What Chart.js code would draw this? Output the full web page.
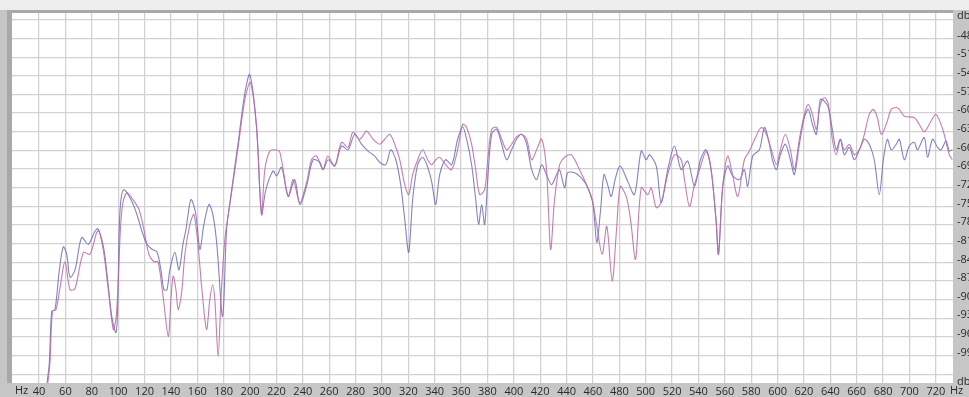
<!DOCTYPE html>
<html>
<head>
<meta charset="utf-8">
<script src="https://cdn.jsdelivr.net/npm/chart.js@4"></script>
<style>
  html, body { margin: 0; padding: 0; background: #c6c6c6; }
  canvas { display: block; }
</style>
</head>
<body>
<canvas id="spectrum" width="969" height="397"></canvas>
<script>
// frequenze (Hz) e livelli (dB)
const blueHz = [45.8, 47.8, 49.6, 52.1, 55.4, 58.4, 61.0, 63.5, 67.3, 72.3, 77.3, 82.4, 84.7, 89.2, 92.5, 95.3, 98.3, 99.5, 100.8, 102.1,
  104.4, 109.7, 114.2, 118.0, 121.8, 125.6, 129.4, 132.4, 134.7, 137.0, 139.2, 143.0, 146.1, 149.1, 151.4, 155.2, 158.9, 162.0, 165.0, 168.8,
  171.8, 174.8, 179.2, 182.2, 184.7, 191.0, 196.1, 199.8, 204.9, 208.7, 212.0, 217.5, 220.1, 223.9, 228.9, 233.9, 237.7, 242.8, 247.8, 252.9,
  255.4, 259.2, 264.2, 269.3, 274.3, 279.4, 284.5, 289.5, 294.5, 298.3, 302.9, 306.7, 310.5, 314.2, 317.3, 320.3, 323.3, 327.1, 330.9, 334.7,
  337.7, 340.8, 343.8, 348.3, 352.9, 357.4, 361.2, 364.2, 368.0, 371.1, 373.3, 375.6, 377.9, 380.2, 383.2, 387.0, 390.8, 394.5, 398.3, 402.1,
  405.9, 409.7, 413.5, 417.3, 421.1, 424.8, 428.6, 432.4, 434.7, 438.5, 440.8, 446.1, 452.3, 456.1, 459.9, 462.9, 465.8, 468.3, 471.1, 473.9,
  477.1, 480.7, 486.4, 491.5, 496.6, 500.4, 502.9, 508.0, 511.7, 516.7, 521.8, 526.9, 531.9, 537.0, 541.5, 545.8, 549.6, 553.4, 555.2, 558.4,
  562.2, 566.0, 571.1, 574.8, 577.3, 581.1, 586.2, 590.0, 593.0, 596.1, 599.1, 602.1, 605.9, 609.7, 612.7, 616.5, 620.3, 623.3, 626.4, 629.4,
  632.4, 635.5, 638.5, 641.5, 644.5, 647.6, 650.6, 654.4, 658.2, 662.0, 665.8, 669.5, 673.3, 677.1, 680.2, 683.2, 686.2, 690.0, 692.3, 696.1,
  699.8, 703.6, 706.1, 711.2, 713.7, 717.5, 721.3, 723.9, 727.7, 730.2, 732.5];
const blueDb = [-103.9, -100.1, -91.9, -91.6, -85.2, -81.5, -82.7, -86.4, -85.2, -80.0, -81.1, -79.0, -78.6, -81.9, -87.8, -92.9, -95.3, -92.1, -78.7, -73.9,
  -72.3, -73.9, -76.3, -79.0, -81.1, -81.9, -82.3, -85.2, -88.4, -88.4, -85.2, -82.4, -85.2, -81.1, -78.7, -73.9, -76.3, -81.9, -77.9, -74.7,
  -76.3, -81.1, -92.7, -78.7, -74.4, -64.7, -56.7, -53.8, -62.1, -76.3, -72.3, -69.3, -70.1, -68.7, -73.4, -70.7, -74.7, -71.8, -67.5, -67.9,
  -69.1, -67.5, -68.5, -65.3, -65.9, -63.4, -65.0, -66.1, -66.9, -67.9, -68.3, -65.9, -67.5, -71.5, -77.1, -82.4, -73.9, -68.3, -67.1, -68.7,
  -71.0, -74.7, -69.9, -67.5, -68.3, -64.2, -62.2, -64.2, -68.3, -73.9, -77.9, -74.7, -77.9, -70.7, -63.4, -62.6, -65.0, -67.5, -65.9, -64.2,
  -63.4, -65.0, -69.1, -70.7, -68.3, -69.9, -71.5, -69.9, -69.1, -72.0, -69.6, -69.6, -70.7, -72.0, -74.4, -80.8, -75.5, -69.9, -71.5, -73.4,
  -70.4, -68.5, -71.0, -73.1, -66.1, -67.5, -66.7, -68.5, -74.4, -69.1, -65.3, -69.1, -67.7, -71.8, -67.5, -65.9, -69.1, -77.4, -82.7, -71.8,
  -68.5, -70.1, -70.7, -69.1, -71.8, -66.9, -65.9, -62.3, -64.2, -67.5, -69.1, -66.7, -65.0, -67.5, -69.9, -65.0, -60.7, -59.4, -61.8, -63.4,
  -57.8, -58.1, -59.1, -62.6, -65.9, -64.2, -66.7, -65.5, -67.5, -65.9, -64.2, -65.0, -67.5, -73.1, -67.5, -64.2, -65.9, -65.0, -64.2, -67.5,
  -65.3, -64.7, -65.9, -63.9, -67.1, -64.2, -65.5, -65.9, -64.5, -66.1, -65.9];

const pinkHz = [46.4, 48.3, 50.2, 52.9, 55.9, 59.7, 63.5, 67.3, 73.6, 78.6, 83.7, 85.5, 89.2, 92.5, 96.3, 98.3, 99.8, 101.7, 103.6, 106.7,
  111.2, 115.8, 119.5, 123.3, 127.1, 130.2, 133.9, 138.0, 140.0, 141.7, 143.8, 145.5, 148.1, 150.6, 154.4, 157.4, 160.5, 163.5, 167.0, 169.5,
  171.6, 173.3, 175.8, 177.9, 180.9, 184.7, 191.0, 196.1, 200.2, 204.9, 208.7, 211.2, 215.0, 218.8, 222.6, 228.9, 232.7, 237.7, 242.8, 246.6,
  250.4, 255.2, 258.9, 264.2, 269.3, 274.3, 277.9, 283.2, 288.3, 293.3, 298.3, 302.1, 305.9, 309.7, 313.5, 317.3, 320.3, 323.3, 327.1, 330.9,
  334.7, 337.7, 340.8, 343.8, 348.3, 352.9, 357.4, 361.2, 364.2, 368.0, 371.1, 374.1, 377.9, 380.2, 383.2, 387.0, 390.8, 394.5, 398.3, 402.1,
  405.9, 409.7, 413.5, 417.3, 421.1, 424.8, 427.9, 430.9, 434.7, 438.5, 443.6, 449.8, 456.1, 459.9, 462.7, 467.0, 470.5, 474.6, 477.9, 480.7,
  485.2, 488.5, 492.3, 496.6, 501.6, 504.2, 508.0, 511.7, 516.7, 521.8, 526.9, 529.4, 533.2, 537.0, 540.8, 545.8, 549.6, 553.4, 555.2, 558.4,
  562.2, 565.8, 569.8, 574.8, 578.6, 583.7, 587.7, 591.5, 595.3, 599.1, 602.1, 605.9, 609.7, 612.7, 616.5, 620.3, 623.3, 626.4, 629.4, 632.4,
  635.5, 638.5, 641.5, 644.5, 647.6, 650.6, 654.4, 658.2, 662.0, 665.8, 669.5, 672.6, 675.6, 678.6, 682.4, 686.2, 690.0, 692.3, 696.1, 703.6,
  707.4, 711.2, 716.3, 720.1, 725.2, 730.2, 732.5];
const pinkDb = [-103.9, -100.1, -91.9, -91.6, -88.1, -83.9, -88.4, -88.2, -82.4, -82.7, -79.2, -78.9, -82.7, -88.4, -94.8, -93.1, -88.4, -78.7, -74.4, -72.8,
  -73.9, -75.5, -78.7, -82.7, -83.9, -83.9, -89.2, -95.9, -90.0, -86.2, -88.4, -91.6, -88.9, -82.7, -77.9, -76.3, -81.1, -88.4, -94.8, -90.0,
  -87.6, -90.0, -99.1, -90.0, -80.3, -74.7, -65.4, -57.8, -55.1, -62.3, -76.3, -69.1, -66.1, -65.9, -66.3, -73.4, -70.7, -74.4, -71.2, -67.5,
  -66.9, -69.1, -66.9, -68.5, -64.7, -65.5, -63.1, -64.2, -62.9, -64.2, -65.0, -64.2, -63.4, -65.0, -67.5, -71.5, -73.1, -69.9, -67.5, -65.9,
  -67.5, -68.3, -67.5, -67.1, -68.3, -69.1, -65.9, -61.8, -62.3, -65.0, -69.1, -73.1, -72.3, -67.5, -62.6, -62.3, -64.2, -65.9, -65.0, -63.8,
  -63.4, -64.2, -67.5, -65.9, -64.2, -69.1, -81.9, -73.9, -68.3, -67.1, -66.7, -69.1, -72.0, -74.4, -77.9, -82.7, -78.2, -87.0, -78.7, -71.8,
  -73.4, -77.1, -83.5, -72.0, -73.1, -72.0, -75.2, -74.4, -69.9, -66.7, -67.5, -70.7, -75.0, -71.5, -69.1, -66.2, -69.1, -77.4, -82.7, -71.8,
  -66.9, -69.9, -73.4, -67.5, -66.1, -63.7, -62.3, -63.4, -65.9, -68.3, -65.9, -63.4, -65.9, -69.1, -64.2, -60.2, -58.6, -60.2, -62.6, -58.6,
  -57.5, -58.6, -64.2, -66.7, -64.2, -65.9, -65.0, -66.7, -65.9, -63.4, -60.2, -59.4, -60.7, -63.4, -61.8, -59.4, -59.1, -59.4, -60.5, -60.7,
  -61.8, -63.0, -61.3, -60.2, -62.6, -66.7, -67.5];

// etichette degli assi
const hzTicks = [40, 60, 80, 100, 120, 140, 160, 180, 200, 220, 240, 260, 280, 300, 320, 340, 360, 380, 400,
  420, 440, 460, 480, 500, 520, 540, 560, 580, 600, 620, 640, 660, 680, 700, 720];
const dbTicks = [-45, -48, -51, -54, -57, -60, -63, -66, -69, -72, -75, -78, -81, -84, -87, -90, -93, -96, -99, -102];
const dbLabelled = [-48, -51, -54, -57, -60, -63, -66, -69, -72, -75, -78, -81, -84, -87, -90, -93, -96, -99];

function toPoints(xs, ys) {
    return xs.map(function (x, i) { return { x: x, y: ys[i] }; });
}

// sfondo, cornice e scritte "Hz" / "db"
const frame = {
    id: 'frame',
    beforeDraw: function (chart) {
        const ctx = chart.ctx;
        const a = chart.chartArea;
        ctx.save();
        ctx.fillStyle = '#c6c6c6';
        ctx.fillRect(0, 0, chart.width, chart.height);
        ctx.fillStyle = '#eeeeee';
        ctx.fillRect(0, 0, chart.width, a.top - 3);
        ctx.fillStyle = '#a9a9a9';
        ctx.fillRect(a.left - 5, a.top - 3, a.right - a.left + 5, 3);
        ctx.fillRect(a.left - 5, a.top - 3, 5, a.bottom - a.top + 3);
        ctx.fillStyle = '#ffffff';
        ctx.fillRect(a.left, a.top, a.right - a.left, a.bottom - a.top);
        ctx.restore();
    },
    afterDraw: function (chart) {
        const ctx = chart.ctx;
        const a = chart.chartArea;
        ctx.save();
        ctx.font = '11px "Open Sans"';
        ctx.fillStyle = '#2a2a2a';
        ctx.textBaseline = 'middle';
        ctx.textAlign = 'left';
        ctx.fillText('Hz', 15, a.bottom + 8);
        ctx.fillText('Hz', 950, a.bottom + 8);
        ctx.fillText('db', a.right + 4, a.top + 3);
        ctx.fillText('db', a.right + 4, a.bottom - 1);
        ctx.restore();
    }
};

new Chart(document.getElementById('spectrum').getContext('2d'), {
    type: 'line',
    data: {
        datasets: [{
            label: 'B',
            data: toPoints(pinkHz, pinkDb),
            borderColor: 'rgba(186, 104, 164, 0.85)',
            borderWidth: 1.1,
            pointRadius: 0,
            tension: 0.3,
            fill: false
        }, {
            label: 'A',
            data: toPoints(blueHz, blueDb),
            borderColor: 'rgba(100, 100, 180, 0.8)',
            borderWidth: 1.1,
            pointRadius: 0,
            tension: 0.3,
            fill: false
        }]
    },
    options: {
        responsive: false,
        animation: false,
        devicePixelRatio: 1,
        layout: { padding: { left: 12, top: 13, right: 0, bottom: 0 } },
        plugins: {
            legend: { display: false },
            tooltip: { enabled: false }
        },
        scales: {
            x: {
                type: 'linear',
                min: 19.5,
                max: 733,
                afterBuildTicks: function (scale) {
                    scale.ticks = hzTicks.map(function (v) { return { value: v }; });
                },
                afterFit: function (scale) { scale.height = 14; },
                grid: { color: '#d2d2d2', lineWidth: 1.3, drawTicks: false },
                border: { display: false },
                ticks: {
                    autoSkip: false,
                    maxRotation: 0,
                    padding: 2,
                    color: '#2a2a2a',
                    font: { family: 'Open Sans', size: 11 }
                }
            },
            y: {
                position: 'right',
                min: -103.4,
                max: -43.9,
                afterBuildTicks: function (scale) {
                    scale.ticks = dbTicks.map(function (v) { return { value: v }; });
                },
                afterFit: function (scale) { scale.width = 16; },
                grid: { color: '#d2d2d2', lineWidth: 1.3, drawTicks: false },
                border: { display: false },
                ticks: {
                    padding: 4,
                    labelOffset: -3,
                    color: '#2a2a2a',
                    font: { family: 'Open Sans', size: 11 },
                    callback: function (v) { return dbLabelled.indexOf(v) >= 0 ? v : ''; }
                }
            }
        }
    },
    plugins: [frame]
});
</script>
</body>
</html>
